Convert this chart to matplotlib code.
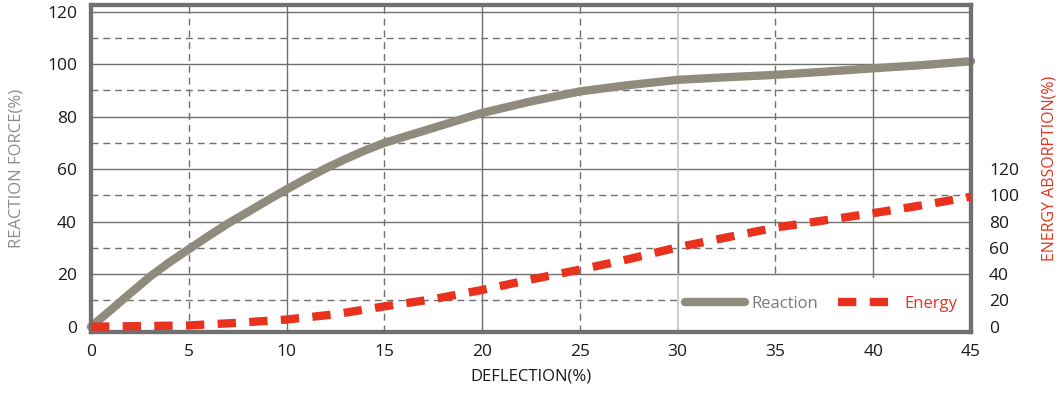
import matplotlib
matplotlib.use("Agg")
import matplotlib.pyplot as plt
from matplotlib.lines import Line2D
from matplotlib.patches import Rectangle

# deflection (%) and readings (left axis, %)
react_x = [0, 1, 2, 3, 4, 5, 6, 7, 8, 9, 10, 11, 12, 13, 14, 15,
	17.5, 20, 22.5, 25, 27.5, 30, 32.5, 35, 37.5, 40, 42.5, 45]
reaction = [0, 6.3, 12.7, 19, 24.5, 29.5, 34.5, 39.3, 43.6, 48, 52.3, 56.4, 60.3, 63.8, 67.1, 70,
	75.7, 81.4, 85.8, 89.6, 92, 94, 95, 95.9, 97.1, 98.4, 99.6, 101.1]

# energy absorption curve (right axis, %)
energy_x = [0, 2.5, 5, 7.5, 10, 12.5, 15, 17.5, 20, 22.5, 25, 27.5, 30, 32.5, 35, 37.5, 40, 42.5, 45]
energy = [0, 0.5, 1, 3, 5.5, 9.5, 15.5, 21, 28, 36, 43.5, 51.5, 60.5, 68, 75.5, 81, 86.5, 92.5, 99]

x_ticks = [0, 5, 10, 15, 20, 25, 30, 35, 40, 45]
left_ticks = [0, 20, 40, 60, 80, 100, 120]
right_ticks = [0, 20, 40, 60, 80, 100, 120]

plt.rcParams['font.family'] = ['Open Sans', 'DejaVu Sans']

grey = '#707070'
light = '#c4c4c4'
line_grey = '#8f8b7d'
red = '#e8321e'
dash = (0, (2.2, 1.6))

fig = plt.figure(figsize=(10.64, 3.94), dpi=100)
ax = fig.add_axes([91/1064, 1 - 332/394, 880/1064, 327/394])

ax.set_xlim(0, 45)
ax.set_ylim(-2, 122.5)

# grid: solid on major, dashed in between
for v in (10, 20, 40):
	ax.axvline(v, color=grey, lw=1.0, zorder=1)
for v in range(5, 45, 10):
	ax.axvline(v, color=grey, lw=1.0, ls=(0, (5, 3.5)), zorder=1)
for v in range(20, 121, 20):
	ax.axhline(v, color=grey, lw=1.0, zorder=1)
for v in range(10, 120, 20):
	ax.axhline(v, color=grey, lw=1.0, ls=(0, (5, 3.5)), zorder=1)
# the 30 line is drawn pale in the original, dark only between 20 and 40
ax.axvline(30, color=light, lw=1.2, zorder=2.5)
ax.vlines(30, 20, 40, color=grey, lw=1.0, zorder=2.6)

# white box behind the legend
ax.add_patch(Rectangle((30 / 45, 0), 1 - 30 / 45, 20.5 / 124.5, transform=ax.transAxes,
	facecolor='white', edgecolor='none', zorder=2))

ax.plot(react_x, reaction, color=line_grey, lw=6, solid_capstyle='round',
	solid_joinstyle='round', zorder=3, clip_on=False)

ax2 = ax.twinx()
ax2.set_ylim(-4, 245)
ax2.plot(energy_x, energy, color=red, lw=6, ls=dash, zorder=3, clip_on=False)

for a in (ax, ax2):
	for s in a.spines.values():
		s.set_color(grey)
		s.set_linewidth(3)
	a.tick_params(length=0, labelsize=12.5, labelcolor='#1a1a1a')

ax.set_xticks(x_ticks)
ax.set_yticks(left_ticks)
ax2.set_yticks(right_ticks)
ax.tick_params(axis='x', pad=9)
ax.tick_params(axis='y', pad=10)
ax2.tick_params(axis='y', pad=13)

ax.set_xlabel('DEFLECTION(%)', fontsize=12, color='#1a1a1a', labelpad=6)
ax.set_ylabel('REACTION FORCE(%)', fontsize=12, color='#8c8c8c', labelpad=16)
ax2.set_ylabel('ENERGY ABSORPTION(%)', fontsize=11.5, color=red, labelpad=16)

handles = [Line2D([], [], color=line_grey, lw=6, solid_capstyle='round'),
	Line2D([], [], color=red, lw=6, ls=dash)]
leg = ax2.legend(handles, ['Reaction', 'Energy'], loc='lower right', ncol=2,
	bbox_to_anchor=(1.0, 0.02), frameon=False, fontsize=12, handlelength=3.6,
	columnspacing=1.2, handletextpad=0.4, borderaxespad=0.4)
leg.get_texts()[0].set_color('#7a7a7a')
leg.get_texts()[1].set_color(red)

fig.savefig('out.png', dpi=100)
